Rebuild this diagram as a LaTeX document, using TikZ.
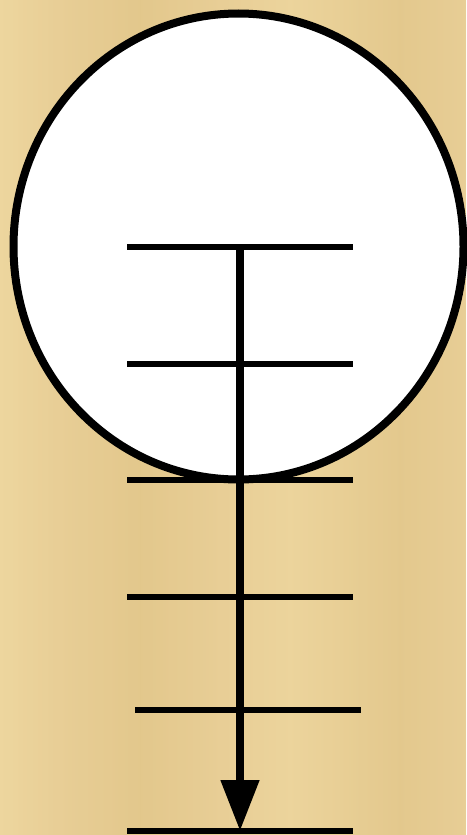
\documentclass[tikz,border=0pt]{standalone}
\usepackage{tikz}
\usetikzlibrary{shapes.geometric,arrows.meta}
\definecolor{papyrus}{RGB}{232,206,150}
\definecolor{papyrusdark}{RGB}{224,196,134}
\definecolor{papyruslight}{RGB}{240,218,162}

\begin{document}
\begin{tikzpicture}[x=1pt, y=-1pt,
        ring/.style={ellipse, draw, fill=white, line width=8pt, minimum width=450pt, minimum height=466pt, inner sep=0pt},
        rung/.style={draw, line width=6pt},
        shaft/.style={draw, line width=8pt, -{Triangle[length=51pt,width=37pt]}}
    ]
        % background
        \fill[papyrus] (0,0) rectangle (466,835);
        \shade[left color=papyruslight, right color=papyrus, opacity=0.7] (0,0) rectangle (60,835);
        \shade[left color=papyrus, right color=papyrusdark, opacity=0.6] (60,0) rectangle (140,835);
        \shade[left color=papyrusdark, right color=papyrus, opacity=0.6] (140,0) rectangle (220,835);
        \shade[left color=papyrus, right color=papyruslight, opacity=0.5] (220,0) rectangle (290,835);
        \shade[left color=papyruslight, right color=papyrusdark, opacity=0.5] (290,0) rectangle (400,835);
        \shade[left color=papyrusdark, right color=papyrus, opacity=0.5] (400,0) rectangle (466,835);
        \useasboundingbox (0,0) rectangle (466,835);

        \node[ring] (disc) at (238.5, 246.5) {};

        \coordinate (l1) at (127, 247);  \coordinate (r1) at (353, 247);
        \coordinate (l2) at (127, 364);  \coordinate (r2) at (353, 364);
        \coordinate (l3) at (127, 480);  \coordinate (r3) at (353, 480);
        \coordinate (l4) at (127, 597);  \coordinate (r4) at (353, 597);
        \coordinate (l5) at (135, 710);  \coordinate (r5) at (361, 710);
        \coordinate (l6) at (127, 831);  \coordinate (r6) at (353, 831);
        \coordinate (top) at (240, 247);
        \coordinate (tip) at (240, 831);

        \draw[rung] (l1) -- (r1);
        \draw[rung] (l2) -- (r2);
        \draw[rung] (l3) -- (r3);
        \draw[rung] (l4) -- (r4);
        \draw[rung] (l5) -- (r5);
        \draw[rung] (l6) -- (r6);

        \draw[shaft] (top) -- (tip);
    \end{tikzpicture}
\end{document}
